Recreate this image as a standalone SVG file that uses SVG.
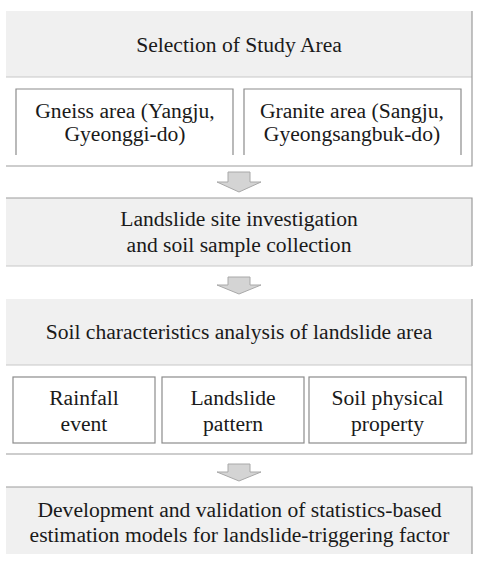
<svg xmlns="http://www.w3.org/2000/svg" width="477" height="563" viewBox="0 0 477 563">
<style>
text{font-family:"Liberation Serif","Times New Roman",serif;font-size:21.6px;fill:#1a1a1a;text-anchor:middle}
.hdr{fill:#f0f0f0;stroke:none}
.edge{fill:none;stroke:#9c9c9c;stroke-width:1.2}
.sep{fill:none;stroke:#c8c8c8;stroke-width:1.2}
.inner{fill:#ffffff;stroke:#8c8c8c;stroke-width:1.2}
.arrow{fill:#d4d4d4;stroke:#a8a8a8;stroke-width:1}
</style>
<rect width="477" height="563" fill="#ffffff"/>

<g id="node-study-area">
<rect class="hdr" x="6" y="11" width="466" height="66"/>
<path class="sep" d="M6 77H472"/>
<path class="edge" d="M472 11V166H6"/>
<text x="239" y="52">Selection of Study Area</text>
</g>
<g id="node-gneiss">
<path class="inner" d="M16 155V89H233V155"/>
<text x="125" y="118">Gneiss area (Yangju,</text>
<text x="125" y="141">Gyeonggi-do)</text>
</g>
<g id="node-granite">
<path class="inner" d="M244 155V89H461V155"/>
<text x="352" y="118">Granite area (Sangju,</text>
<text x="352" y="141">Gyeongsangbuk-do)</text>
</g>

<g id="node-investigation">
<rect class="hdr" x="6" y="198" width="466" height="68"/>
<path class="edge" d="M6 198H472V266"/>
<path class="sep" d="M6 266H472"/>
<text x="239" y="226">Landslide site investigation</text>
<text x="239" y="252">and soil sample collection</text>
</g>

<g id="node-soil-analysis">
<rect class="hdr" x="6" y="299" width="466" height="66"/>
<path class="sep" d="M6 365H472"/>
<path class="edge" d="M472 299V454H6"/>
<text x="239" y="339">Soil characteristics analysis of landslide area</text>
</g>
<g id="node-rainfall">
<rect class="inner" x="13" y="377" width="142" height="66"/>
<text x="84" y="405">Rainfall</text>
<text x="84" y="431">event</text>
</g>
<g id="node-pattern">
<rect class="inner" x="162" y="377" width="142" height="66"/>
<text x="233" y="405">Landslide</text>
<text x="233" y="431">pattern</text>
</g>
<g id="node-property">
<rect class="inner" x="309" y="377" width="157" height="66"/>
<text x="387.5" y="405">Soil physical</text>
<text x="387.5" y="431">property</text>
</g>

<g id="node-models">
<rect class="hdr" x="6" y="487" width="466" height="67"/>
<path class="edge" d="M6 487H472V554"/>
<text x="239.5" y="517">Development and validation of statistics-based</text>
<text x="239.5" y="542">estimation models for landslide-triggering factor</text>
</g>

<g id="connectors">
<path class="arrow" d="M228 172H250V182H261L239 192L217 182H228Z"/>
<path class="arrow" d="M228 277H250V285H261L239 294L217 285H228Z"/>
<path class="arrow" d="M228 464H250V472H261L239 481L217 472H228Z"/>
</g>
</svg>
